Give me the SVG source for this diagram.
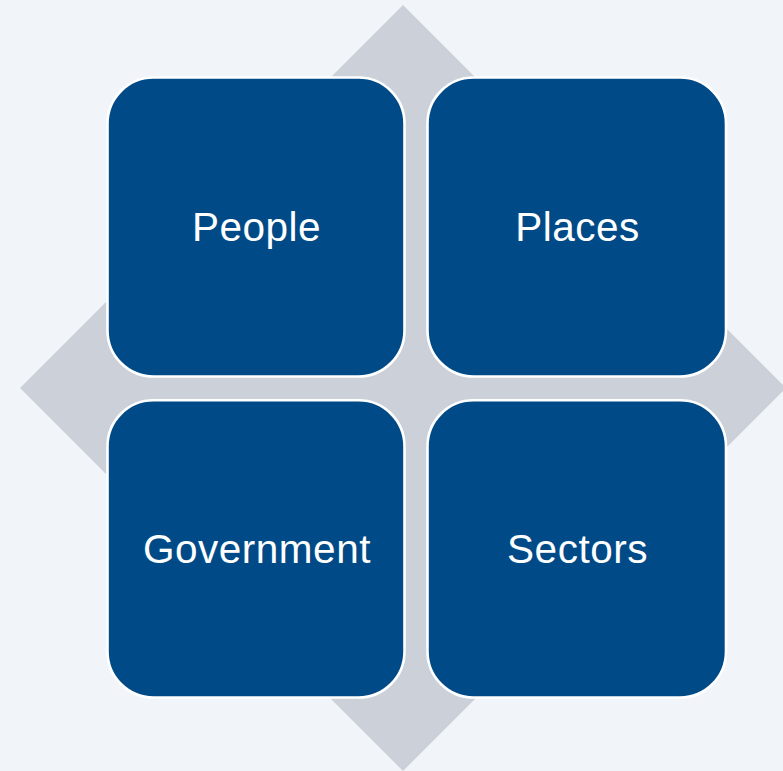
<svg xmlns="http://www.w3.org/2000/svg" width="783" height="771" viewBox="0 0 783 771">
<style>
.box{fill:#004b87;stroke:#ffffff;stroke-width:2.6}
.lbl{font-family:"Liberation Sans",Arial,sans-serif;font-size:40.5px;fill:#ffffff;text-anchor:middle;letter-spacing:0.5px}
</style>
<rect width="783" height="771" fill="#f1f4f8"/>
<polygon points="403,5 786,388 403,771 20,388" fill="#cbd0d9"/>
<g id="people">
<rect class="box" x="107.5" y="77.5" width="297" height="299" rx="46" ry="46"/>
<text class="lbl" x="256.5" y="241">People</text>
</g>
<g id="places">
<rect class="box" x="427.5" y="77.5" width="298.5" height="299" rx="46" ry="46"/>
<text class="lbl" x="577.5" y="241">Places</text>
</g>
<g id="government">
<rect class="box" x="107.5" y="400.3" width="297" height="297.2" rx="46" ry="46"/>
<text class="lbl" x="257" y="563">Government</text>
</g>
<g id="sectors">
<rect class="box" x="427.5" y="400.3" width="298.5" height="297.2" rx="46" ry="46"/>
<text class="lbl" x="577.5" y="563">Sectors</text>
</g>
<g id="connectors"/>
</svg>
